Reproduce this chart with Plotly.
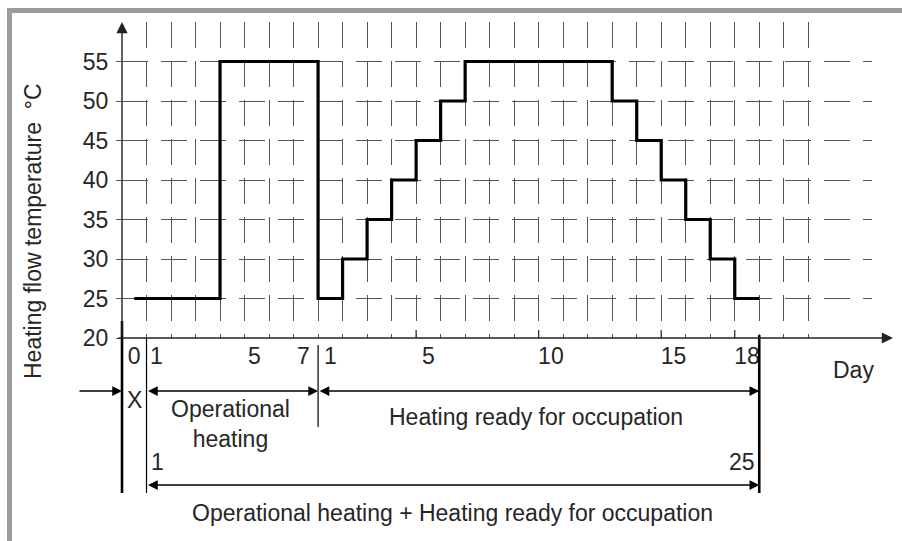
import plotly.graph_objects as go

# Heating flow temperature per day (°C)
start_temp = 25                      # day 0 (X)
op_days = [1, 2, 3, 4, 5, 6, 7]      # operational heating
op_temps = [25, 25, 25, 55, 55, 55, 55]
ready_days = list(range(1, 19))      # heating ready for occupation
ready_temps = [25, 30, 35, 40, 45, 50, 55, 55, 55, 55, 55, 55,
               50, 45, 40, 35, 30, 25]

# Axis labelling
y_ticks = [20, 25, 30, 35, 40, 45, 50, 55]
op_labels = [1, 5, 7]
ready_labels = [1, 5, 10, 15, 18]
ready_marks = [5, 10, 15, 18]
total_labels = ["1", "25"]

OFFSET = len(op_days)                # ready phase starts after operational heating
LAST = OFFSET + len(ready_days) + 1  # end of the final day
X_RANGE = [0, 30.6]
Y_RANGE = [20, 60]

# plot area in pixels
L, T, W, H = 122, 22, 750, 316
FONT = "Liberation Sans, Arial, Helvetica, sans-serif"
TXT = "#262626"
GRID = "#555555"
FS = 23


def xp(v):
    """data x -> paper x"""
    return (v - X_RANGE[0]) / (X_RANGE[1] - X_RANGE[0])


def px_x(p):
    return (p - L) / W


def px_y(p):
    return (T + H - p) / H


def xpix(v):
    return L + xp(v) * W


# step curve
step_x = [0.5] + op_days + [OFFSET + d for d in ready_days] + [LAST]
step_y = [start_temp] + op_temps + ready_temps + [ready_temps[-1]]

fig = go.Figure()
fig.add_trace(go.Scatter(
    x=step_x, y=step_y, mode="lines", line_shape="hv",
    line=dict(color="black", width=3.2), hoverinfo="skip", showlegend=False,
))

tick_vals = [0.5] + [d + 0.4 for d in op_labels] + [OFFSET + d + 0.5 for d in ready_labels]
tick_text = ["0"] + [str(d) for d in op_labels] + [str(d) for d in ready_labels]

fig.update_layout(
    width=902, height=541,
    margin=dict(l=L, r=902 - L - W, t=T, b=541 - T - H),
    paper_bgcolor="white", plot_bgcolor="white",
    font=dict(family=FONT, size=FS, color=TXT),
    showlegend=False,
    xaxis=dict(
        range=X_RANGE, showline=False, zeroline=False, showgrid=False,
        tickmode="array", tickvals=tick_vals, ticktext=tick_text,
        ticks="", ticklabelstandoff=2,
        minor=dict(tickmode="array", tickvals=list(range(1, 29)), showgrid=True,
                   gridcolor=GRID, gridwidth=1.4, griddash="26px,13px", ticks=""),
    ),
    yaxis=dict(
        range=Y_RANGE, showline=False, zeroline=False,
        tickmode="array", tickvals=y_ticks,
        showgrid=True, gridcolor=GRID, gridwidth=1.4, griddash="26px,13px",
        ticks="outside", ticklen=5, tickcolor=GRID, tickwidth=1.4,
        ticklabelstandoff=3,
    ),
)

shapes = []
# frame
shapes.append(dict(type="rect", xref="paper", yref="paper",
                   x0=px_x(9.5), x1=px_x(915), y0=px_y(560), y1=px_y(10.5),
                   line=dict(color="#9c9c9c", width=5), fillcolor="rgba(0,0,0,0)"))
# short ticks on the day axis
for d in ready_marks:
    shapes.append(dict(type="line", xref="x", yref="y",
                       x0=OFFSET + d, x1=OFFSET + d, y0=Y_RANGE[0], y1=Y_RANGE[0] + 1,
                       line=dict(color="#333", width=1.3)))
# dimension boundary lines
shapes += [
    dict(type="line", xref="paper", yref="paper", x0=xp(0), x1=xp(0),
         y0=px_y(321), y1=px_y(493), line=dict(color="black", width=2.6)),
    dict(type="line", xref="paper", yref="paper", x0=xp(1), x1=xp(1),
         y0=px_y(338), y1=px_y(493), line=dict(color="black", width=1.2)),
    dict(type="line", xref="paper", yref="paper", x0=xp(OFFSET + 1), x1=xp(OFFSET + 1),
         y0=px_y(345), y1=px_y(427), line=dict(color="black", width=1.2)),
    dict(type="line", xref="paper", yref="paper", x0=xp(LAST), x1=xp(LAST),
         y0=px_y(335), y1=px_y(493), line=dict(color="black", width=2.6)),
]
fig.update_layout(shapes=shapes)

ann = []


def arrow(x_tip, y, dx_pix, both=False, color="black", width=1.3):
    ann.append(dict(
        xref="paper", yref="paper", x=x_tip, y=y, ax=dx_pix, ay=0,
        axref="pixel", ayref="pixel", text="", showarrow=True,
        arrowhead=2, arrowsize=1.5, arrowwidth=width, arrowcolor=color,
        arrowside="end+start" if both else "end", standoff=0, startstandoff=0,
    ))


# axes with arrow tips
ann.append(dict(xref="paper", yref="paper", x=px_x(893), y=0, ax=-(893 - 117), ay=0,
                text="", showarrow=True, arrowhead=2, arrowsize=1.6, arrowwidth=1.4,
                arrowcolor="#222", standoff=0))
ann.append(dict(xref="paper", yref="paper", x=0, y=1, ax=0, ay=H,
                text="", showarrow=True, arrowhead=2, arrowsize=1.6, arrowwidth=1.4,
                arrowcolor="#222", standoff=0))

row1 = px_y(391)
row2 = px_y(485)
arrow(xp(0), row1, -(xpix(0) - 78))
arrow(xp(OFFSET + 1), row1, -(xpix(OFFSET + 1) - xpix(1)), both=True)
arrow(xp(LAST), row1, -(xpix(LAST) - xpix(OFFSET + 1)), both=True)
arrow(xp(LAST), row2, -(xpix(LAST) - xpix(1)), both=True)


def label(text, x, y, xanchor="center", angle=0):
    ann.append(dict(xref="paper", yref="paper", x=x, y=y, text=text, showarrow=False,
                    xanchor=xanchor, yanchor="middle", textangle=angle,
                    font=dict(family=FONT, size=FS, color=TXT)))


label("X", xp(0.5), px_y(400))
label("Operational<br>heating", px_x(230), px_y(424))
label("Heating ready for occupation", px_x(536), px_y(417))
label(total_labels[0], xp(1) + 2 / W, px_y(462), xanchor="left")
label(total_labels[1], xp(LAST) - 2 / W, px_y(462), xanchor="right")
label("Operational heating + Heating ready for occupation", px_x(452), px_y(513))
label("Day", px_x(853), px_y(370))
label("Heating flow temperature  °C", px_x(33), px_y(231), angle=-90)

fig.update_layout(annotations=ann)

fig.write_html("out.html")
